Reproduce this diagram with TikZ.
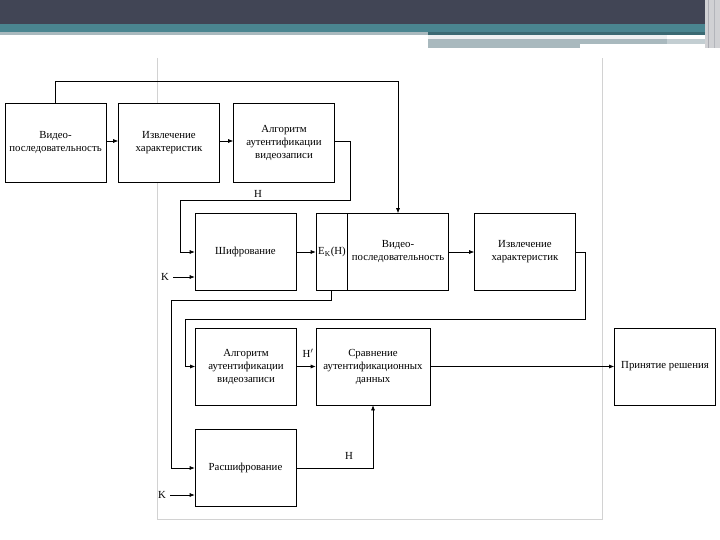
\documentclass[tikz,border=0pt]{standalone}
\usepackage{fontspec}
\setmainfont{Liberation Serif}
\usetikzlibrary{arrows.meta}
\definecolor{topdark}{HTML}{414555}
\definecolor{topteal}{HTML}{4A8590}
\definecolor{topgray}{HTML}{A9B9BE}
\definecolor{framegray}{HTML}{D2D2D2}
\begin{document}
\begin{tikzpicture}[x=1pt,y=-1pt,
  box/.style={draw=black,line width=0.6pt,fill=white,inner sep=0pt,align=center,
    font=\fontsize{10.8}{13}\selectfont,minimum width=101pt,minimum height=77pt},
  arr/.style={draw=black,line width=0.6pt,-{Latex[length=5pt,width=4pt]}},
  ln/.style={draw=black,line width=0.6pt},
  lbl/.style={font=\fontsize{10.8}{13}\selectfont,inner sep=0pt}]
\useasboundingbox (0,0) rectangle (720,540);
% slide header
\fill[topdark] (0,0) rectangle (720,24);
\fill[topteal] (0,24) rectangle (708,32);
\fill[topgray] (0,32) rectangle (428,35);
\fill[topteal!80!black] (428,32) rectangle (708,35);
\fill[topgray] (428,39) rectangle (667,44);
\fill[topgray!70] (667,39) rectangle (708,44);
\fill[topgray] (428,44) rectangle (580,48);
\fill[white!80!topgray] (428,35) rectangle (667,39);
\fill[white!75!topdark] (705,0) rectangle (720,48);
\draw[white!55!topdark,line width=1pt] (708,0) -- (708,48);
\draw[white!60!topdark,line width=0.8pt] (714,0) -- (714,48);
% frame
\draw[framegray,line width=1pt] (157,58) -- (157,519) -- (602,519) -- (602,58);
% top row
\node[box,minimum height=79pt] (v1) at (55.5,142.5) {Видео-\\последовательность};
\node[box,minimum height=79pt] (f1) at (169,142.5) {Извлечение\\характеристик};
\node[box,minimum height=79pt] (a1) at (284,142.5) {Алгоритм\\аутентификации\\видеозаписи};
% middle row
\node[box] (shif) at (245.5,252) {Шифрование};
\node[box,minimum width=31pt] (ek) at (331.5,252) {};
\node[lbl,anchor=west] (ekt) at (318,252) {E$_{\mathrm{K}}$(H)};
\node[box] (vid) at (398,252) {Видео-\\последовательность};
\node[box] (izv2) at (525,252) {Извлечение\\характеристик};
% third row
\node[box] (alg2) at (246,366.5) {Алгоритм\\аутентификации\\видеозаписи};
\node[box,minimum width=114pt] (srav) at (373,366.5) {Сравнение\\аутентификационных\\данных};
\node[box] (prin) at (665,366.5) {Принятие решения};
% bottom
\node[box] (ras) at (245.5,468) {Расшифрование};
% labels
\node[lbl] (h1) at (258,194) {H};
\node[lbl] (h2) at (308,353) {H$'$};
\node[lbl] (h3) at (349,456) {H};
\node[lbl] (k1) at (165,277) {K};
\node[lbl] (k2) at (162,495) {K};
% connectors
\draw[arr] (v1.east |- 0,141) -- (f1.west |- 0,141);
\draw[arr] (f1.east |- 0,141) -- (a1.west |- 0,141);
\draw[arr] (v1.north) -- (55.5,81) -| (vid.north);
\draw[arr] (a1.east |- 0,141) -- (350,141) -- (350,200) -- (180,200) |- (shif.west);
\draw[arr] (k1.east) ++(4,0) -- (k1.east -| shif.west);
\draw[arr] (shif.east) -- (ek.west);
\draw[arr] (vid.east) -- (izv2.west);
\draw[arr] (izv2.east) -- (585,252) -- (585,319) -- (185,319) |- (alg2.west);
\draw[arr] (ek.south) -- (331.5,300) -- (171,300) |- (ras.west);
\draw[arr] (alg2.east) -- (srav.west);
\draw[arr] (srav.east) -- (prin.west);
\draw[arr] (ras.east) -| (srav.south);
\draw[arr] (k2.east) ++(4,0) -- (k2.east -| ras.west);
\end{tikzpicture}
\end{document}
